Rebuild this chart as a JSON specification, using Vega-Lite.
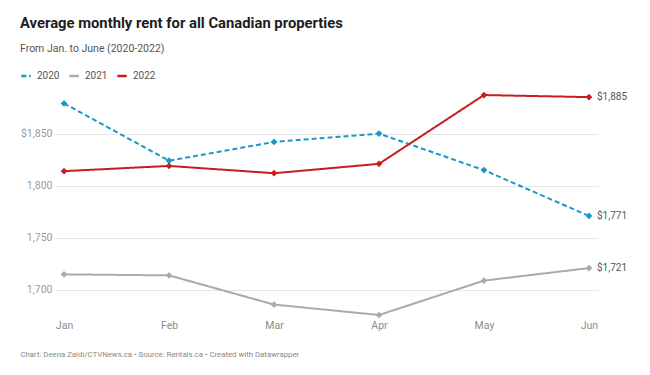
{
  "$schema": "https://vega.github.io/schema/vega-lite/v6.json",
  "width": 543,
  "height": 221,
  "autosize": {"type": "none"},
  "padding": {"left": 55, "top": 94, "right": 52, "bottom": 60},
  "background": "white",
  "config": {
    "view": {"stroke": null},
    "font": "Roboto",
    "title": {"font": "Roboto", "subtitleFont": "Roboto"}
  },
  "title": {
    "text": "Average monthly rent for all Canadian properties",
    "subtitle": "From Jan. to June (2020-2022)",
    "anchor": "start",
    "frame": "group",
    "dx": -35,
    "fontSize": 14.8,
    "fontWeight": "bold",
    "color": "#1d1d1d",
    "subtitleFontSize": 10.5,
    "subtitleColor": "#555555",
    "subtitlePadding": 14,
    "offset": 15
  },
  "data": {
    "values": [
      {"month": "Jan", "year": "2020", "rent": 1879},
      {"month": "Feb", "year": "2020", "rent": 1824},
      {"month": "Mar", "year": "2020", "rent": 1842},
      {"month": "Apr", "year": "2020", "rent": 1850},
      {"month": "May", "year": "2020", "rent": 1815},
      {"month": "Jun", "year": "2020", "rent": 1771},
      {"month": "Jan", "year": "2021", "rent": 1715},
      {"month": "Feb", "year": "2021", "rent": 1714},
      {"month": "Mar", "year": "2021", "rent": 1686},
      {"month": "Apr", "year": "2021", "rent": 1676},
      {"month": "May", "year": "2021", "rent": 1709},
      {"month": "Jun", "year": "2021", "rent": 1721},
      {"month": "Jan", "year": "2022", "rent": 1814},
      {"month": "Feb", "year": "2022", "rent": 1819},
      {"month": "Mar", "year": "2022", "rent": 1812},
      {"month": "Apr", "year": "2022", "rent": 1821},
      {"month": "May", "year": "2022", "rent": 1887},
      {"month": "Jun", "year": "2022", "rent": 1885}
    ]
  },
  "encoding": {
    "x": {
      "field": "month",
      "type": "ordinal",
      "sort": ["Jan", "Feb", "Mar", "Apr", "May", "Jun"],
      "scale": {"type": "point", "padding": 0.086},
      "axis": {
        "labelAngle": 0,
        "domain": false,
        "ticks": false,
        "grid": false,
        "labelFontSize": 10.5,
        "labelColor": "#8c8c8c",
        "labelPadding": 5,
        "title": "Chart: Deena Zaidi/CTVNews.ca • Source: Rentals.ca • Created with Datawrapper",
        "titleFontSize": 7.8,
        "titleFontWeight": "normal",
        "titleColor": "#888888",
        "titleAnchor": "start",
        "titleAlign": "left",
        "titleBaseline": "alphabetic",
        "titleX": -35,
        "titleY": 41
      }
    },
    "y": {
      "field": "rent",
      "type": "quantitative",
      "scale": {"domain": [1676, 1888], "nice": false, "zero": false},
      "axis": {
        "title": null,
        "values": [1700, 1750, 1800, 1850],
        "labelExpr": "datum.value == 1850 ? '$1,850' : format(datum.value, ',')",
        "domain": false,
        "ticks": false,
        "gridColor": "#e6e6e6",
        "labelFontSize": 10.5,
        "labelColor": "#9a9a9a",
        "labelPadding": 3
      }
    },
    "color": {
      "field": "year",
      "type": "nominal",
      "scale": {"domain": ["2020", "2021", "2022"], "range": ["#1b98c7", "#aaaaaa", "#c71e1d"]}
    }
  },
  "layer": [
    {
      "mark": {"type": "line", "strokeWidth": 2},
      "encoding": {
        "strokeDash": {
          "field": "year",
          "type": "nominal",
          "scale": {"domain": ["2020", "2021", "2022"], "range": [[5, 3], [1, 0], [1, 0]]}
        },
        "color": {
          "field": "year",
          "type": "nominal",
          "legend": {
            "orient": "none",
            "legendX": -35,
            "legendY": -24,
            "direction": "horizontal",
            "title": null,
            "symbolType": "stroke",
            "symbolSize": 90,
            "symbolStrokeWidth": 2.5,
            "labelFontSize": 10,
            "labelColor": "#555555",
            "labelOffset": 5,
            "columnPadding": 4
          }
        }
      }
    },
    {
      "mark": {"type": "point", "shape": "diamond", "filled": true, "size": 45, "opacity": 1},
      "encoding": {
        "color": {"field": "year", "type": "nominal", "legend": null}
      }
    },
    {
      "transform": [{"filter": "datum.month == 'Jun'"}],
      "mark": {"type": "text", "align": "left", "dx": 8, "fontSize": 10},
      "encoding": {
        "text": {"field": "rent", "type": "quantitative", "format": "$,.0f"},
        "color": {"value": "#555555"}
      }
    }
  ]
}
